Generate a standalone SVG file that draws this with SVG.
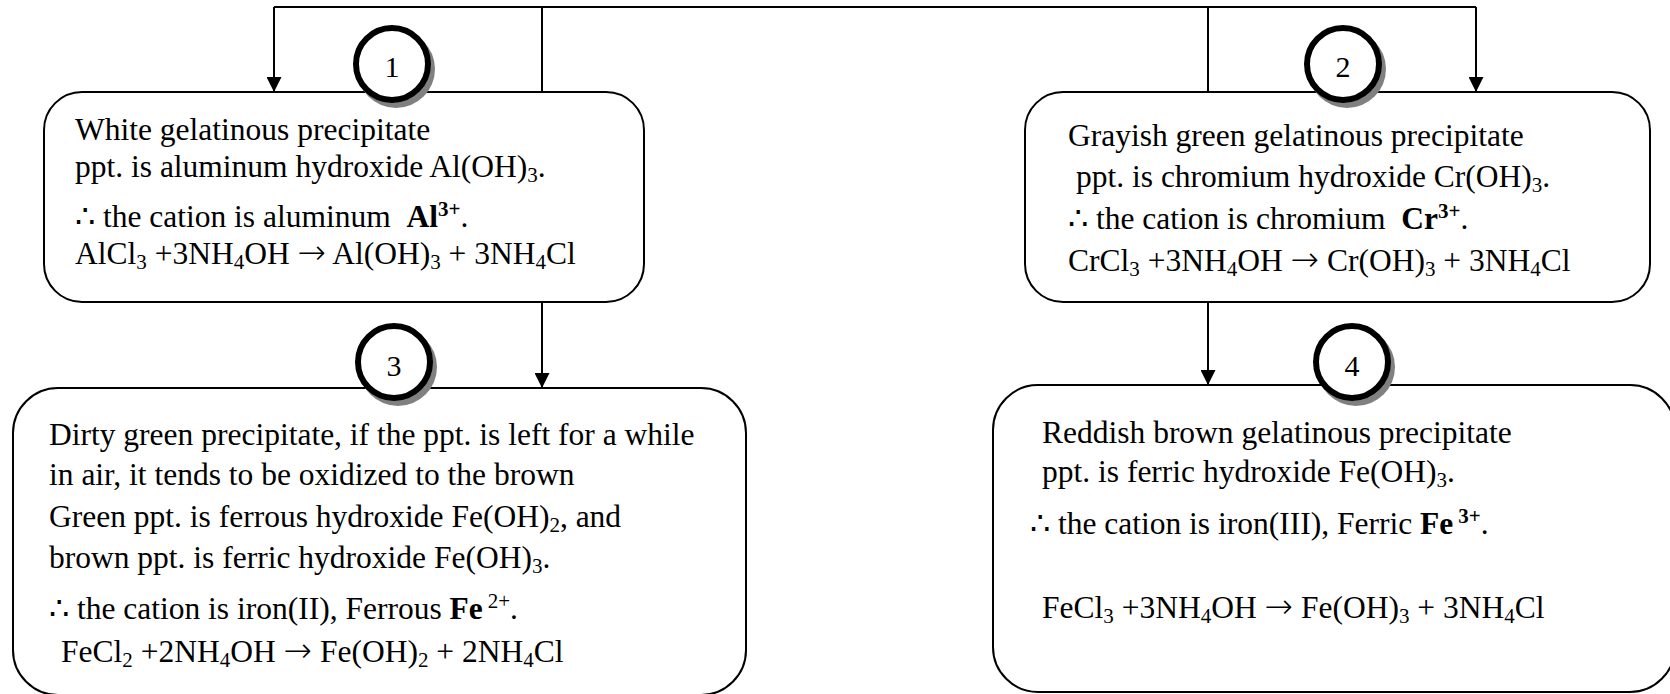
<svg xmlns="http://www.w3.org/2000/svg" width="1670" height="694" viewBox="0 0 1670 694">
<style>
.box{fill:#fff;stroke:#000;stroke-width:2}
.con{fill:none;stroke:#000;stroke-width:2}
.t{font-family:"Liberation Serif","Times New Roman",serif;font-size:31.5px;fill:#000}
.s{font-size:21px}
.b{font-weight:bold}
.ar{font-family:"DejaVu Sans",sans-serif;font-size:34px;font-weight:200}
.sh{fill:#808080}
.ring{fill:#fff;stroke:#000;stroke-width:6}
.n{font-family:"Liberation Serif","Times New Roman",serif;font-size:30px;fill:#000;text-anchor:middle}
</style>
<defs>
<marker id="ah" markerUnits="userSpaceOnUse" viewBox="0 0 15 15" markerWidth="15" markerHeight="15" refX="15" refY="7.5" orient="auto">
<path d="M0,0 L15,7.5 L0,15 z" fill="#000"/>
</marker>
</defs>
<g id="connectors">
<path class="con" d="M274,7 H1476"/>
<path class="con" d="M274,7 V92" marker-end="url(#ah)"/>
<path class="con" d="M542,7 V92"/>
<path class="con" d="M1208,7 V92"/>
<path class="con" d="M1476,7 V92" marker-end="url(#ah)"/>
<path class="con" d="M542,302 V388" marker-end="url(#ah)"/>
<path class="con" d="M1208,302 V385" marker-end="url(#ah)"/>
</g>
<g id="node1">
<rect class="box" x="44" y="92" width="600" height="210" rx="38" ry="38"/>
<text class="t" x="75" y="140">White gelatinous precipitate</text>
<text class="t" x="75" y="177">ppt. is aluminum hydroxide Al(OH)<tspan class="s" dy="5">3</tspan><tspan dy="-5">.</tspan></text>
<text class="t" x="75" y="227">∴ the cation is aluminum <tspan class="b" dx="8">Al</tspan><tspan class="s b" dy="-11">3+</tspan><tspan dy="11">.</tspan></text>
<text class="t" x="75" y="264">AlCl<tspan class="s" dy="5">3</tspan><tspan dy="-5"> +3NH</tspan><tspan class="s" dy="5">4</tspan><tspan dy="-5">OH </tspan><tspan class="ar">→</tspan><tspan> Al(OH)</tspan><tspan class="s" dy="5">3</tspan><tspan dy="-5"> + 3NH</tspan><tspan class="s" dy="5">4</tspan><tspan dy="-5">Cl</tspan></text>
<circle class="sh" cx="396" cy="69" r="39"/>
<circle class="ring" cx="392" cy="64" r="36"/>
<text class="n" x="392" y="77">1</text>
</g>
<g id="node2">
<rect class="box" x="1025" y="92" width="625" height="210" rx="38" ry="38"/>
<text class="t" x="1068" y="146">Grayish green gelatinous precipitate</text>
<text class="t" x="1076" y="187">ppt. is chromium hydroxide Cr(OH)<tspan class="s" dy="5">3</tspan><tspan dy="-5">.</tspan></text>
<text class="t" x="1068" y="229">∴ the cation is chromium <tspan class="b" dx="8">Cr</tspan><tspan class="s b" dy="-11">3+</tspan><tspan dy="11">.</tspan></text>
<text class="t" x="1068" y="271">CrCl<tspan class="s" dy="5">3</tspan><tspan dy="-5"> +3NH</tspan><tspan class="s" dy="5">4</tspan><tspan dy="-5">OH </tspan><tspan class="ar">→</tspan><tspan> Cr(OH)</tspan><tspan class="s" dy="5">3</tspan><tspan dy="-5"> + 3NH</tspan><tspan class="s" dy="5">4</tspan><tspan dy="-5">Cl</tspan></text>
<circle class="sh" cx="1347" cy="69" r="39"/>
<circle class="ring" cx="1343" cy="64" r="36"/>
<text class="n" x="1343" y="77">2</text>
</g>
<g id="node3">
<rect class="box" x="13" y="388" width="733" height="307" rx="45" ry="45"/>
<text class="t" x="49" y="445">Dirty green precipitate, if the ppt. is left for a while</text>
<text class="t" x="49" y="485">in air, it tends to be oxidized to the brown</text>
<text class="t" x="49" y="527">Green ppt. is ferrous hydroxide Fe(OH)<tspan class="s" dy="5">2</tspan><tspan dy="-5">, and</tspan></text>
<text class="t" x="49" y="568">brown ppt. is ferric hydroxide Fe(OH)<tspan class="s" dy="5">3</tspan><tspan dy="-5">.</tspan></text>
<text class="t" x="49" y="619">∴ the cation is iron(II), Ferrous <tspan class="b">Fe</tspan><tspan class="s" dx="5" dy="-11">2+</tspan><tspan dy="11">.</tspan></text>
<text class="t" x="61" y="662">FeCl<tspan class="s" dy="5">2</tspan><tspan dy="-5"> +2NH</tspan><tspan class="s" dy="5">4</tspan><tspan dy="-5">OH </tspan><tspan class="ar">→</tspan><tspan> Fe(OH)</tspan><tspan class="s" dy="5">2</tspan><tspan dy="-5"> + 2NH</tspan><tspan class="s" dy="5">4</tspan><tspan dy="-5">Cl</tspan></text>
<circle class="sh" cx="398" cy="367" r="39"/>
<circle class="ring" cx="394" cy="362" r="36"/>
<text class="n" x="394" y="376">3</text>
</g>
<g id="node4">
<rect class="box" x="993" y="385" width="682" height="307" rx="45" ry="45"/>
<text class="t" x="1042" y="443">Reddish brown gelatinous precipitate</text>
<text class="t" x="1042" y="482">ppt. is ferric hydroxide Fe(OH)<tspan class="s" dy="5">3</tspan><tspan dy="-5">.</tspan></text>
<text class="t" x="1030" y="534">∴ the cation is iron(III), Ferric <tspan class="b">Fe</tspan><tspan class="s b" dx="5" dy="-11">3+</tspan><tspan dy="11">.</tspan></text>
<text class="t" x="1042" y="618">FeCl<tspan class="s" dy="5">3</tspan><tspan dy="-5"> +3NH</tspan><tspan class="s" dy="5">4</tspan><tspan dy="-5">OH </tspan><tspan class="ar">→</tspan><tspan> Fe(OH)</tspan><tspan class="s" dy="5">3</tspan><tspan dy="-5"> + 3NH</tspan><tspan class="s" dy="5">4</tspan><tspan dy="-5">Cl</tspan></text>
<circle class="sh" cx="1356" cy="367" r="39"/>
<circle class="ring" cx="1352" cy="362" r="36"/>
<text class="n" x="1352" y="376">4</text>
</g>
</svg>
